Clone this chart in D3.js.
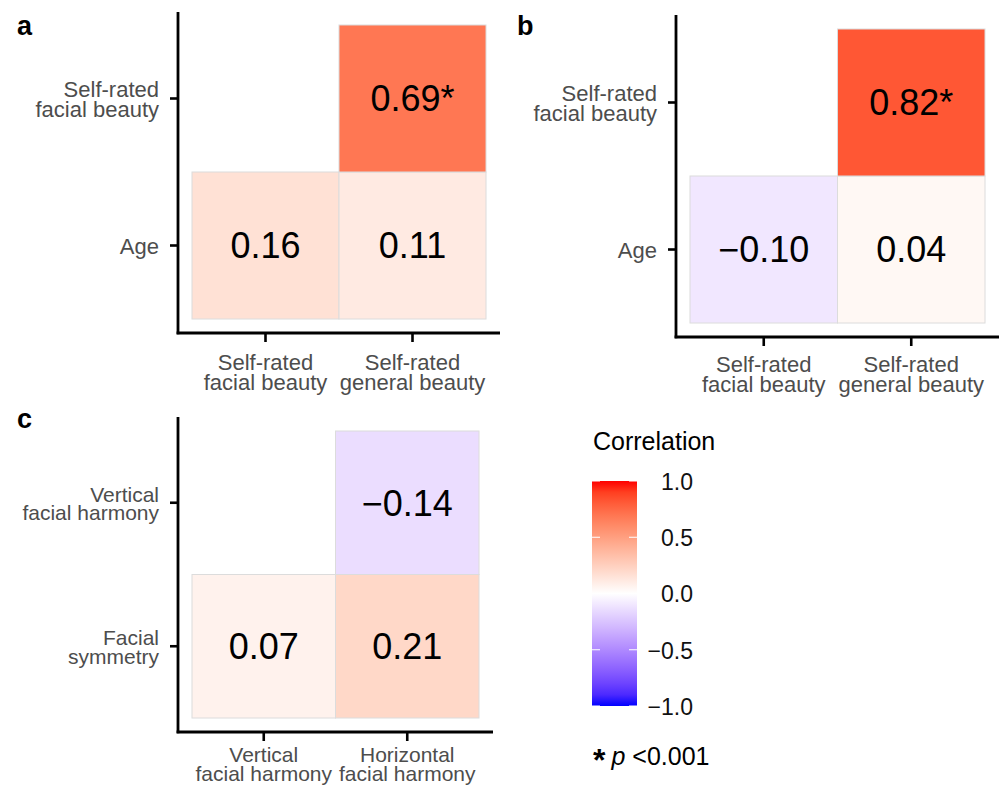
<!DOCTYPE html>
<html>
<head>
<meta charset="utf-8">
<script src="https://cdn.jsdelivr.net/npm/d3@7"></script>
<style>
  html, body { margin: 0; padding: 0; background: #fff; }
  svg { display: block; font-family: "Liberation Sans", Arial, Helvetica, sans-serif; }
</style>
</head>
<body>
<svg id="chart" width="999" height="787"></svg>
<script>
// ---------- DATA ----------
const panelA_rows = ["Age", "Self-rated\nfacial beauty"];              // bottom -> top
const panelA_cols = ["Self-rated\nfacial beauty", "Self-rated\ngeneral beauty"];
const panelA_values = [[0.16, 0.11], [null, 0.69]];                     // [row][col]
const panelA_sig = [[false, false], [false, true]];

const panelB_rows = ["Age", "Self-rated\nfacial beauty"];
const panelB_cols = ["Self-rated\nfacial beauty", "Self-rated\ngeneral beauty"];
const panelB_values = [[-0.10, 0.04], [null, 0.82]];
const panelB_sig = [[false, false], [false, true]];

const panelC_rows = ["Facial\nsymmetry", "Vertical\nfacial harmony"];
const panelC_cols = ["Vertical\nfacial harmony", "Horizontal\nfacial harmony"];
const panelC_values = [[0.07, 0.21], [null, -0.14]];
const panelC_sig = [[false, false], [false, false]];

const legendTicks = [-1.0, -0.5, 0.0, 0.5, 1.0];
const legendDomain = [-1, 0, 1];
const legendColors = ["#0000FF", "#FFFFFF", "#FF0000"];

// ---------- SCALES ----------
const color = d3.scaleLinear().domain(legendDomain).range(legendColors).interpolate(d3.interpolateLab);
const fmt = d3.format(".2f");
const svg = d3.select("#chart");
const axisTextColor = "#4d4d4d";

function drawPanel(cfg) {
  const g = svg.append("g");
  const x = d3.scaleBand().domain(cfg.cols).range(cfg.xRange).padding(0);
  const y = d3.scaleBand().domain(cfg.rows).range(cfg.yRange).padding(0);

  // cells
  const cells = [];
  cfg.rows.forEach((r, i) => cfg.cols.forEach((c, j) => {
    if (cfg.values[i][j] !== null) cells.push({r, c, v: cfg.values[i][j], s: cfg.sig[i][j]});
  }));
  g.selectAll("rect.cell").data(cells).join("rect")
    .attr("class", "cell")
    .attr("x", d => x(d.c)).attr("y", d => y(d.r))
    .attr("width", x.bandwidth()).attr("height", y.bandwidth())
    .attr("fill", d => color(d.v))
    .attr("stroke", "#dcdcdc").attr("stroke-width", 1);
  g.selectAll("text.val").data(cells).join("text")
    .attr("class", "val")
    .attr("x", d => x(d.c) + x.bandwidth() / 2)
    .attr("y", d => y(d.r) + y.bandwidth() / 2)
    .attr("dy", "0.36em")
    .attr("text-anchor", "middle")
    .attr("font-size", 36).attr("fill", "#000")
    .text(d => fmt(d.v) + (d.s ? "*" : ""));

  // axes (ticks via d3 axis, labels added as multi-line text)
  const ax = g.append("g").attr("transform", `translate(0,${cfg.axisY})`)
    .call(d3.axisBottom(x).tickSize(9).tickFormat(""));
  const ay = g.append("g").attr("transform", `translate(${cfg.axisX},0)`)
    .call(d3.axisLeft(y).tickSize(8).tickFormat(""));
  [ax, ay].forEach(a => {
    a.select(".domain").remove();
    a.selectAll(".tick line").attr("stroke", "#000").attr("stroke-width", 2.6);
  });
  g.append("line").attr("x1", cfg.axisX).attr("x2", cfg.axisX)
    .attr("y1", cfg.yTop).attr("y2", cfg.axisY + 1.3)
    .attr("stroke", "#000").attr("stroke-width", 2.8);
  g.append("line").attr("x1", cfg.axisX - 1.4).attr("x2", cfg.xEnd)
    .attr("y1", cfg.axisY).attr("y2", cfg.axisY)
    .attr("stroke", "#000").attr("stroke-width", 2.8);

  // y labels
  cfg.rows.forEach(r => {
    const lines = r.split("\n");
    const cy = y(r) + y.bandwidth() / 2;
    lines.forEach((l, k) => {
      g.append("text").attr("text-anchor", "end").attr("font-size", cfg.font)
        .attr("fill", axisTextColor)
        .attr("x", cfg.axisX - 19)
        .attr("y", cy + 8 + (k - (lines.length - 1) / 2) * cfg.lineH).text(l);
    });
  });
  // x labels
  cfg.cols.forEach(c => {
    const lines = c.split("\n");
    const cx = x(c) + x.bandwidth() / 2;
    lines.forEach((l, k) => {
      g.append("text").attr("text-anchor", "middle").attr("font-size", cfg.font)
        .attr("fill", axisTextColor)
        .attr("x", cx).attr("y", cfg.axisY + cfg.xLabOff + k * cfg.lineH).text(l);
    });
  });

  // panel letter
  g.append("text").attr("x", cfg.letterX).attr("y", cfg.letterY)
    .attr("font-size", 27).attr("font-weight", "bold").attr("fill", "#000").text(cfg.letter);
}

drawPanel({rows: panelA_rows, cols: panelA_cols, values: panelA_values, sig: panelA_sig,
  xRange: [192, 486], yRange: [319, 25], axisX: 178, axisY: 333, yTop: 12, xEnd: 500,
  xLabOff: 37, font: 22, lineH: 20, letter: "a", letterX: 17, letterY: 35});
drawPanel({rows: panelB_rows, cols: panelB_cols, values: panelB_values, sig: panelB_sig,
  xRange: [690, 985], yRange: [323, 29], axisX: 676, axisY: 337, yTop: 15, xEnd: 999,
  xLabOff: 35, font: 22, lineH: 20, letter: "b", letterX: 517, letterY: 35});
drawPanel({rows: panelC_rows, cols: panelC_cols, values: panelC_values, sig: panelC_sig,
  xRange: [192, 479], yRange: [718, 431], axisX: 178, axisY: 732, yTop: 417, xEnd: 493,
  xLabOff: 30, font: 21, lineH: 18.5, letter: "c", letterX: 17, letterY: 428});

// ---------- LEGEND ----------
const leg = svg.append("g");
leg.append("text").attr("x", 593).attr("y", 450).attr("font-size", 25).attr("fill", "#000")
  .text("Correlation");
const ly = d3.scaleLinear().domain([-1, 1]).range([706, 481]);
const defs = svg.append("defs");
const grad = defs.append("linearGradient").attr("id", "cbar")
  .attr("x1", 0).attr("y1", 1).attr("x2", 0).attr("y2", 0);
d3.range(0, 21).forEach(i => {
  const v = -1 + i * 0.1;
  grad.append("stop").attr("offset", (i / 20)).attr("stop-color", color(v));
});
const barX0 = 592, barX1 = 637;
leg.append("rect").attr("x", barX0).attr("y", ly(1)).attr("width", barX1 - barX0)
  .attr("height", ly(-1) - ly(1)).attr("fill", "url(#cbar)");
leg.selectAll("line.tl").data(legendTicks).join("line").attr("class", "tl")
  .attr("x1", barX0).attr("x2", barX0 + 8).attr("y1", d => ly(d)).attr("y2", d => ly(d))
  .attr("stroke", "#fff").attr("stroke-width", 1);
leg.selectAll("line.tr").data(legendTicks).join("line").attr("class", "tr")
  .attr("x1", barX1 - 8).attr("x2", barX1).attr("y1", d => ly(d)).attr("y2", d => ly(d))
  .attr("stroke", "#fff").attr("stroke-width", 1);
const lax = leg.append("g").attr("transform", `translate(${barX1},0)`)
  .call(d3.axisRight(ly).tickValues(legendTicks).tickFormat(d3.format(".1f")).tickSize(0).tickPadding(56));
lax.select(".domain").remove();
lax.selectAll("text").attr("text-anchor", "end").attr("font-size", 23).attr("fill", "#111")
  .attr("dy", "0.36em")
  .attr("font-family", "Liberation Sans, Arial, sans-serif");

const pt = leg.append("text").attr("x", 593).attr("y", 765).attr("font-size", 25).attr("fill", "#000");
pt.append("tspan").attr("font-weight", "bold").attr("font-size", 32).attr("dy", 6).text("*");
pt.append("tspan").attr("dx", 6).attr("dy", -6).attr("font-style", "italic").text("p");
pt.append("tspan").text(" <0.001");
</script>
</body>
</html>
